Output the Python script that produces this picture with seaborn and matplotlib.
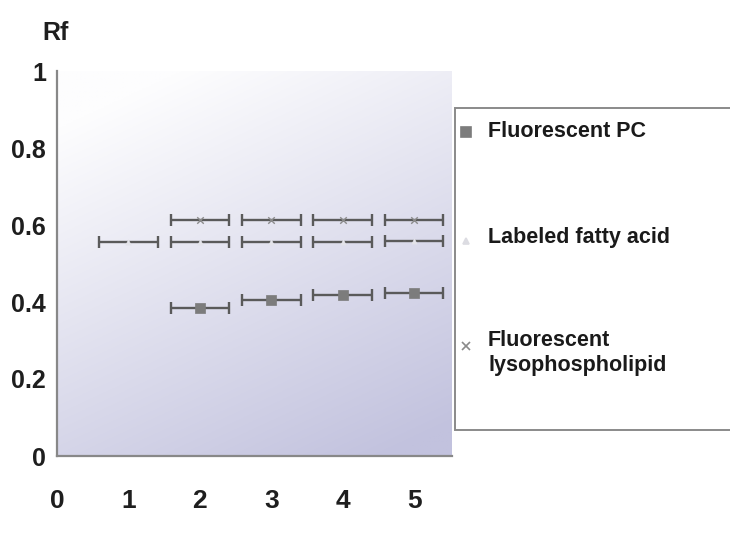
import numpy as np
import pandas as pd
import matplotlib
matplotlib.use("Agg")
import matplotlib.pyplot as plt
import seaborn as sns
from matplotlib.lines import Line2D
from matplotlib.patches import Rectangle

# ---- data ----
series_names = ["Fluorescent PC", "Labeled fatty acid", "Fluorescent\nlysophospholipid"]
pc_x = [2, 3, 4, 5]
pc_y = [0.385, 0.406, 0.417, 0.423]
fa_x = [1, 2, 3, 4, 5]
fa_y = [0.557, 0.555, 0.557, 0.557, 0.558]
lyso_x = [2, 3, 4, 5]
lyso_y = [0.614, 0.614, 0.614, 0.614]
x_err = 0.41
x_ticks = [0, 1, 2, 3, 4, 5]
y_ticks = [0, 0.2, 0.4, 0.6, 0.8, 1]
y_tick_labels = ["0", "0.2", "0.4", "0.6", "0.8", "1"]

sns.set_style("white")
plt.rcParams["font.family"] = ["Liberation Sans", "DejaVu Sans"]
plt.rcParams["font.weight"] = "bold"

W, H = 730, 545
fig = plt.figure(figsize=(7.3, 5.45), dpi=100)
fig.patch.set_facecolor("white")
ax = fig.add_axes([57 / W, (H - 456) / H, (452 - 57) / W, (456 - 71) / H])

# gradient background (white at top-left to lavender at bottom-right)
gx, gy = np.meshgrid(np.linspace(0, 1, 300), np.linspace(0, 1, 300))
t = np.clip(0.38 * gx + 0.8 * gy - 0.12, 0, 1)
c0 = np.array([253, 253, 254]) / 255
c1 = np.array([194, 194, 222]) / 255
img = c0[None, None, :] * (1 - t[..., None]) + c1[None, None, :] * t[..., None]
ax.imshow(img, extent=[0, 5.53, 0, 1], origin="upper", aspect="auto", zorder=0)

err_color = "#5a5a5a"
styles = [
    (pc_x, pc_y, "s", "#7c7c7c", 60),
    (fa_x, fa_y, "^", "#e4e4ea", 14),
    (lyso_x, lyso_y, "x", "#8a8a8a", 22),
]
for xs, ys, mk, col, sz in styles:
    ax.errorbar(xs, ys, xerr=x_err, fmt="none", ecolor=err_color, elinewidth=1.7,
                capsize=4.3, capthick=1.7, zorder=2)
for xs, ys, mk, col, sz in styles:
    d = pd.DataFrame({"x": xs, "y": ys})
    if mk == "x":
        sns.scatterplot(data=d, x="x", y="y", marker=mk, color=col, s=sz,
                        linewidth=1.0, legend=False, ax=ax, zorder=3)
    else:
        sns.scatterplot(data=d, x="x", y="y", marker=mk, color=col, s=sz,
                        edgecolor=col, linewidth=0.5, legend=False, ax=ax, zorder=3)

ax.set_xlim(0, 5.53)
ax.set_ylim(0, 1)
ax.set_xticks(x_ticks)
ax.set_xticklabels([str(v) for v in x_ticks])
ax.set_yticks(y_ticks)
ax.set_yticklabels(y_tick_labels)
ax.set_xlabel("")
ax.set_ylabel("")
for s in ["top", "right"]:
    ax.spines[s].set_visible(False)
for s in ["left", "bottom"]:
    ax.spines[s].set_color("#888888")
    ax.spines[s].set_linewidth(1.6)
ax.tick_params(axis="x", direction="out", length=7, width=1.3, color="#888888",
               pad=17, labelsize=19, labelcolor="#1e1e1e")
ax.tick_params(axis="y", direction="out", length=6, width=1.3, color="#888888",
               pad=2, labelsize=18, labelcolor="#1e1e1e")
for lab in ax.get_xticklabels() + ax.get_yticklabels():
    lab.set_fontweight("bold")

fig.text(56 / W, 1 - 33 / H, "Rf", fontsize=18, fontweight="bold",
         color="#1e1e1e", va="center", ha="center")

# legend box
fig.patches.append(Rectangle((455 / W, (H - 430) / H), 1.0, (430 - 108) / H,
                             transform=fig.transFigure, facecolor="white",
                             edgecolor="#8a8a8a", linewidth=1.4, zorder=5))
leg_markers = [("s", "#7c7c7c", 6.5, 132), ("^", "#dcdce2", 5, 241), ("x", "#8a8a8a", 6, 346)]
for mk, col, ms, yy in leg_markers:
    fig.add_artist(Line2D([465.5 / W], [1 - yy / H], transform=fig.transFigure,
                          linestyle="none", marker=mk, color=col, markersize=ms,
                          markeredgewidth=1.2, zorder=6))
leg_text_y = [131, 237, 353]
for name, yy in zip(series_names, leg_text_y):
    fig.text(488 / W, 1 - yy / H, name, fontsize=15.5, fontweight="bold",
             color="#1a1a1a", va="center", ha="left", linespacing=1.2, zorder=7)

fig.savefig("out.png", dpi=100)
